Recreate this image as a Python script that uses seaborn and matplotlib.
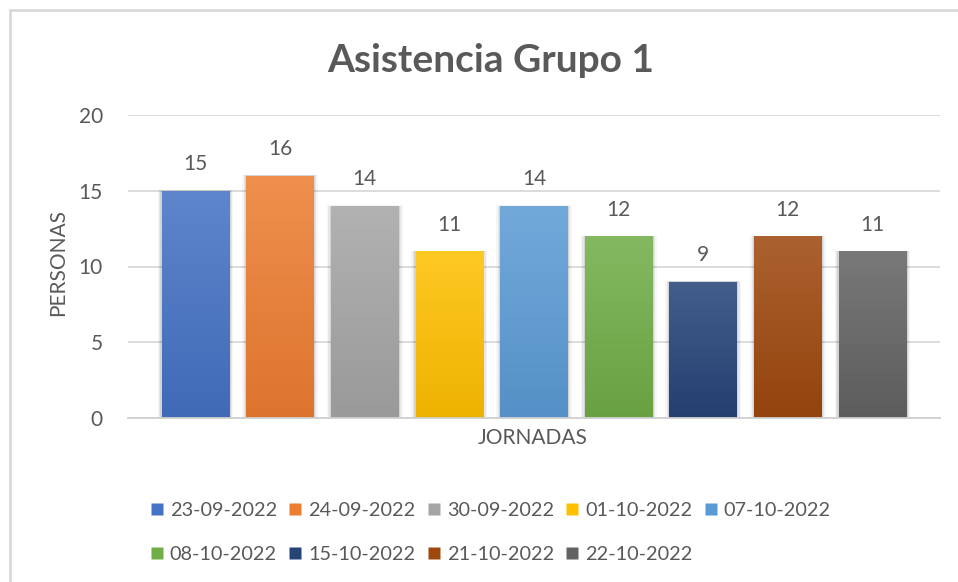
import numpy as np
import pandas as pd
import matplotlib
matplotlib.use("Agg")
import matplotlib.pyplot as plt
import matplotlib.colors as mcolors
from matplotlib.lines import Line2D
from matplotlib.patches import Rectangle
import seaborn as sns

# ---- data ----
fechas = ["23-09-2022", "24-09-2022", "30-09-2022", "01-10-2022", "07-10-2022",
          "08-10-2022", "15-10-2022", "21-10-2022", "22-10-2022"]
personas = [15, 16, 14, 11, 14, 12, 9, 12, 11]
categoria = "JORNADAS"
colores = ["#4472C4", "#ED7D31", "#A5A5A5", "#FFC000", "#5B9BD5",
           "#70AD47", "#264478", "#9E480E", "#636363"]
titulo = "Asistencia Grupo 1"
y_ticks = [0, 5, 10, 15, 20]

df = pd.DataFrame({"cat": [categoria] * len(fechas), "fecha": fechas, "personas": personas})

sns.set_theme(style="white")
FONT = ["Lato", "DejaVu Sans"]
plt.rcParams["font.family"] = FONT
TXT = "#595959"

W, H = 958, 582
fig = plt.figure(figsize=(W / 100, H / 100), dpi=100)
fig.patch.set_facecolor("white")
ax = fig.add_axes([128 / W, 1 - 418 / H, (940 - 128) / W, (418 - 115) / H])

sns.barplot(data=df, x="cat", y="personas", hue="fecha", hue_order=fechas,
            palette=colores, width=0.938, gap=0.2, ax=ax, legend=False,
            saturation=1, edgecolor="none", linewidth=0)

ax.set_xlim(-0.5, 0.5)
ax.set_ylim(0, 20)
ax.set_yticks(y_ticks)
ax.grid(axis="y", color="#D9D9D9", linewidth=1.3, zorder=0)
ax.set_axisbelow(True)
for s in ["top", "right", "left"]:
    ax.spines[s].set_visible(False)
ax.spines["bottom"].set_color("#D0D0D0")
ax.spines["bottom"].set_linewidth(1.3)
ax.tick_params(axis="y", length=0, pad=18, labelsize=15, labelcolor=TXT)
ax.tick_params(axis="x", length=0, labelbottom=False)
ax.set_xlabel("")
ax.set_ylabel("")

def lighten(c, f):
    r = np.array(mcolors.to_rgb(c))
    return r + (1 - r) * f

def darken(c, f):
    return np.array(mcolors.to_rgb(c)) * (1 - f)

# gradient fill + soft shadow + labels
bars = [p for p in ax.patches if p.get_height() > 0]
bars.sort(key=lambda p: p.get_x())
for p, col in zip(bars, colores):
    x0, w, h = p.get_x(), p.get_width(), p.get_height()
    for k, a in [(0.010, 0.04), (0.006, 0.06), (0.003, 0.08)]:
        sh = Rectangle((x0 - k * 0.5, 0), w + k, h + k * 4, facecolor="black",
                       alpha=a, edgecolor="none", zorder=1.5)
        ax.add_patch(sh)
    top = lighten(col, 0.14)
    bot = darken(col, 0.07)
    grad = np.linspace(0, 1, 256)[:, None, None]
    img = top * (1 - grad) + bot * grad
    im = ax.imshow(img, extent=[x0, x0 + w, 0, h], origin="upper", aspect="auto",
                   zorder=2.5, interpolation="bilinear")
    im.set_clip_path(p)
    p.set_zorder(2.4)
    ax.annotate(f"{int(h)}", (x0 + w / 2, h), xytext=(0, 12), textcoords="offset points",
                ha="center", va="bottom", fontsize=15, color=TXT)

ax.set_xlim(-0.5, 0.5)
ax.set_ylim(0, 20)

# axis titles
fig.text(58 / W, 1 - 263 / H, "PERSONAS", rotation=90, ha="center", va="center",
         fontsize=15, color=TXT)
fig.text(533 / W, 1 - 438 / H, categoria, ha="center", va="center", fontsize=15, color=TXT)

# title
fig.text(491 / W, 1 - 60 / H, titulo, ha="center", va="center", fontsize=28,
         fontweight="bold", color=TXT)

# legend (reordered so rows read left to right)
handles = [Line2D([], [], marker="s", linestyle="none", markersize=8,
                  markerfacecolor=c, markeredgecolor="none") for c in colores]
order = [0, 5, 1, 6, 2, 7, 3, 8, 4]
leg = fig.legend([handles[i] for i in order], [fechas[i] for i in order],
                 ncol=5, loc="upper left", bbox_to_anchor=(141 / W, 1 - 492 / H),
                 frameon=False, fontsize=14.3, handlelength=0.6, handletextpad=0.35,
                 columnspacing=0.62, labelspacing=1.35, borderpad=0)
for t in leg.get_texts():
    t.set_color(TXT)

# outer chart border
fig.add_artist(Line2D([9.5 / W, 9.5 / W], [1 - 10 / H, 0], color="#D9D9D9", linewidth=2,
                      transform=fig.transFigure))
fig.add_artist(Line2D([9.5 / W, 1], [1 - 10 / H, 1 - 10 / H], color="#D9D9D9", linewidth=2,
                      transform=fig.transFigure))

fig.savefig("out.png", dpi=100)
